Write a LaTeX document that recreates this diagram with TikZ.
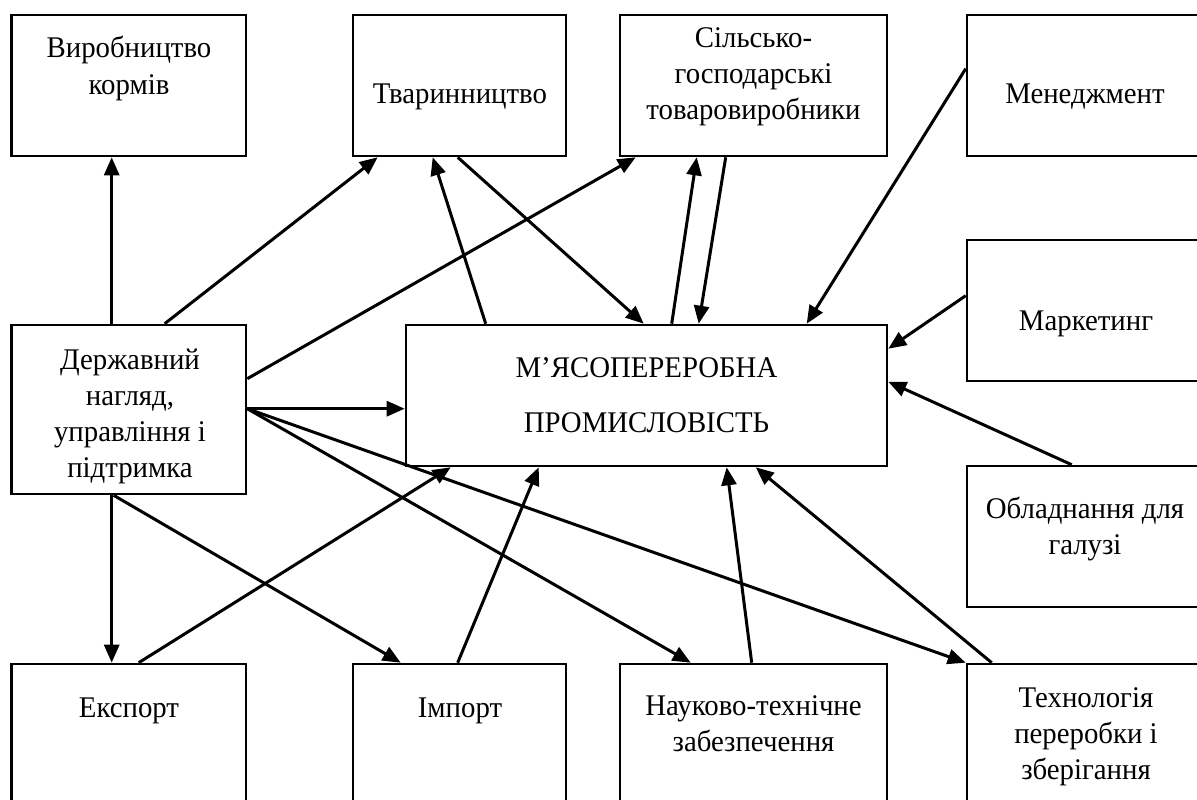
\documentclass[tikz,border=0pt]{standalone}
\usepackage{fontspec}
\setmainfont{Liberation Serif}
\usetikzlibrary{arrows.meta}
\newcommand{\boxtext}[1]{\scalebox{0.96}[1]{\fontsize{30}{36}\selectfont\begin{tabular}[t]{@{}c@{}}#1\end{tabular}}}
\newcommand{\mybox}[5]{\node[box,minimum width={#4-#2},minimum height={#5-#3}] (#1) at ({(#2+#4)/2},{(#3+#5)/2}) {};}
\begin{document}
\begin{tikzpicture}[x=1pt,y=-1pt,
  box/.style={draw=black,line width=2.6pt,rectangle,inner sep=0pt,fill=none},
  txt/.style={inner sep=0pt,anchor=base},
  arr/.style={line width=3pt,-{Triangle[length=18pt,width=15pt]}}]
\useasboundingbox (0,0) rectangle (1197,800);
\clip (0,0) rectangle (1197,800);
\fill[white] (0,0) rectangle (1197,800);
% boxes
\mybox{vyr}{11.5}{15}{246}{156}
\mybox{tvar}{353}{15}{566}{156}
\mybox{silsk}{620}{15}{887}{156}
\mybox{men}{967}{15}{1210}{156}
\mybox{mark}{967}{240}{1210}{381}
\mybox{derzh}{11.5}{325}{246}{494}
\mybox{prom}{406}{325}{887}{466}
\mybox{obl}{967}{466}{1210}{607}
\mybox{eksp}{11.5}{664}{246}{810}
\mybox{imp}{353}{664}{566}{810}
\mybox{nauk}{620}{664}{887}{810}
\mybox{tekh}{967}{664}{1210}{810}
% texts (anchored at the baseline of the first line)
\node[txt] (t-vyr) at (129,58) {\boxtext{Виробництво\\кормів}};
\node[txt] (t-tvar) at (460,103) {\boxtext{Тваринництво}};
\node[txt] (t-silsk) at (753.5,48) {\boxtext{Сільсько-\\господарські\\товаровиробники}};
\node[txt] (t-men) at (1085,103) {\boxtext{Менеджмент}};
\node[txt] (t-mark) at (1086,330) {\boxtext{Маркетинг}};
\node[txt] (t-derzh) at (130,369) {\boxtext{Державний\\нагляд,\\управління і\\підтримка}};
\node[txt] (t-prom) at (646.5,377) {\boxtext{М’ЯСОПЕРЕРОБНА\\[19pt]ПРОМИСЛОВІСТЬ}};
\node[txt] (t-obl) at (1085,518) {\boxtext{Обладнання для\\галузі}};
\node[txt] (t-tekh) at (1086,707) {\boxtext{Технологія\\переробки і\\зберігання}};
\node[txt] (t-eksp) at (129,717) {\boxtext{Експорт}};
\node[txt] (t-imp) at (460,717) {\boxtext{Імпорт}};
\node[txt] (t-nauk) at (753.5,715) {\boxtext{Науково-технічне\\забезпечення}};
% connectors
\draw[arr] ([yshift=56pt]vyr.north east) -- ([yshift=56pt]tvar.north west);
\draw[arr] ([xshift=101.5pt]derzh.north west) -- ([xshift=101.5pt]vyr.south west);
\draw[arr] ([xshift=154.5pt]derzh.north west) -- ([xshift=26pt]tvar.south west);
\draw[arr] ([xshift=81pt]prom.north west) -- ([xshift=81pt]tvar.south west);
\draw[arr] ([xshift=106pt]tvar.south west) -- ([xshift=239pt]prom.north west);
\draw[arr] ([yshift=-55pt]derzh.north east) -- ([xshift=17pt]silsk.south west);
\draw[arr] ([xshift=267pt]prom.north west) -- ([xshift=78pt]silsk.south west);
\draw[arr] ([xshift=107pt]silsk.south west) -- ([xshift=294pt]prom.north west);
\draw[arr] ([yshift=-55pt]men.north west) -- ([xshift=402pt]prom.north west);
\draw[arr] ([yshift=-57pt]mark.north west) -- ([yshift=-25pt]prom.north east);
\draw[arr] ([xshift=106pt]obl.north west) -- ([yshift=-58pt]prom.north east);
\draw[arr] ([yshift=-85pt]derzh.north east) -- ([yshift=-85pt]prom.north west);
\draw[arr] ([xshift=101.5pt]derzh.south west) -- ([xshift=101.5pt]eksp.north west);
\draw[arr] ([xshift=103.5pt]derzh.south west) -- ([xshift=49pt]imp.north west);
\draw[arr] ([xshift=128.5pt]eksp.north west) -- ([xshift=46pt]prom.south west);
\draw[arr] ([xshift=106pt]imp.north west) -- ([xshift=134pt]prom.south west);
\draw[arr] ([yshift=-85pt]derzh.north east) -- ([xshift=72pt]nauk.north west);
\draw[arr] ([yshift=-85pt]derzh.north east) -- (tekh.north west);
\draw[arr] ([xshift=133pt]nauk.north west) -- ([xshift=322pt]prom.south west);
\draw[arr] ([xshift=26pt]tekh.north west) -- ([xshift=351pt]prom.south west);
\end{tikzpicture}
\end{document}
